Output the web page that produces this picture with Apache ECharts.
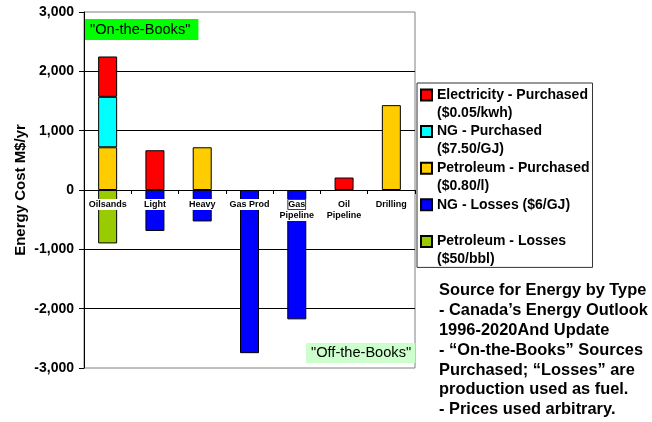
<!DOCTYPE html>
<html>
<head>
<meta charset="utf-8">
<script src="https://cdn.jsdelivr.net/npm/echarts@6/dist/echarts.min.js"></script>
<style>
html,body{margin:0;padding:0;background:#fff;}
#chart{width:652px;height:422px;}
</style>
</head>
<body>
<div id="chart"></div>
<script>
// ---- data ----
const categories = ['Oilsands', 'Light', 'Heavy', 'Gas Prod', 'Gas Pipeline', 'Oil Pipeline', 'Drilling'];
const petroleumPurchased = [720, null, 720, null, null, null, 1430];
const ngPurchased        = [850, null, null, null, null, null, null];
const electricityPurchased = [680, 670, null, null, null, 210, null];
const ngLosses           = [null, -690, -530, -2750, -2180, null, null];
const petroleumLosses    = [-900, null, null, null, null, null, null];

const seriesNames = ['Electricity - Purchased', 'NG - Purchased', 'Petroleum - Purchased', 'NG - Losses ($6/GJ)', 'Petroleum - Losses'];
const seriesSubs  = ['($0.05/kwh)', '($7.50/GJ)', '($0.80/l)', ' ', '($50/bbl)'];
const yTicks = { min: -3000, max: 3000, interval: 1000 };
const noteLines = [
  'Source for Energy by Type',
  '- Canada\u2019s Energy Outlook',
  '1996-2020And Update',
  '- \u201COn-the-Books\u201D Sources',
  'Purchased; \u201CLosses\u201D are',
  'production used as fuel.',
  '- Prices used arbitrary.'
];
const onBooksText = '"On-the-Books"';
const offBooksText = '"Off-the-Books"';
const yAxisTitle = 'Energy Cost M$/yr';

const FONT = 'Liberation Sans, Arial, Helvetica, sans-serif';
const chart = echarts.init(document.getElementById('chart'), null, { renderer: 'canvas' });

function fmtNum(v) {
  const s = Math.abs(v).toString().replace(/\B(?=(\d{3})+(?!\d))/g, ',');
  return (v < 0 ? '-' : '') + s;
}
const subOf = {};
seriesNames.forEach((n, i) => { subOf[n] = seriesSubs[i]; });

const GRID_TOP = 12, GRID_BOTTOM = 54, CHART_H = 422;
const plotH = CHART_H - GRID_TOP - GRID_BOTTOM;
// move category axis up to the zero line of the value axis
const zeroOffset = -plotH * (0 - yTicks.min) / (yTicks.max - yTicks.min);

const barCommon = {
  type: 'bar',
  stack: 'total',
  barWidth: 19
};

const option = {
  animation: false,
  backgroundColor: '#fff',
  textStyle: { fontFamily: FONT },
  grid: {
    left: 84, right: 237, top: GRID_TOP, bottom: GRID_BOTTOM,
    show: true, borderColor: '#808080', borderWidth: 1, backgroundColor: '#fff'
  },
  title: {
    text: noteLines.join('\n'),
    left: 439, top: 281, padding: 0,
    textStyle: { fontFamily: FONT, fontSize: 16.4, fontWeight: 'bold', color: '#000', lineHeight: 19.8 }
  },
  legend: {
    orient: 'vertical',
    left: 417, top: 83,
    padding: [5, 3, 1, 3],
    itemGap: 4.6,
    itemWidth: 11, itemHeight: 11,
    icon: 'rect',
    borderColor: '#333', borderWidth: 1,
    backgroundColor: '#fff',
    selectedMode: false,
    data: seriesNames,
    formatter: function (name) {
      return '{a|' + name + '}\n{a|' + subOf[name] + '}';
    },
    textStyle: {
      padding: [18, 0, 0, 0],
      rich: { a: { fontFamily: FONT, fontSize: 14, fontWeight: 'bold', lineHeight: 18, color: '#000' } }
    }
  },
  xAxis: {
    type: 'category',
    data: categories,
    z: 5,
    offset: zeroOffset,
    axisLine: { onZero: false, lineStyle: { color: '#000', width: 1 } },
    axisTick: { show: true, length: 4, lineStyle: { color: '#000' } },
    axisLabel: {
      interval: 0,
      margin: 9,
      color: '#000',
      fontFamily: FONT,
      fontSize: 9,
      fontWeight: 'bold',
      lineHeight: 11,
      backgroundColor: '#fff',
      formatter: function (v) {
        if (v === 'Gas Pipeline') return '{g|Gas}\n{p|Pipeline}';
        if (v === 'Oil Pipeline') return 'Oil\nPipeline';
        return v;
      },
      rich: {
        g: { fontFamily: FONT, fontSize: 9, fontWeight: 'bold', lineHeight: 11, color: '#000', borderColor: '#000', borderWidth: 0.8, backgroundColor: '#fff' },
        p: { fontFamily: FONT, fontSize: 9, fontWeight: 'bold', lineHeight: 11, color: '#000' }
      }
    },
    splitLine: { show: false }
  },
  yAxis: {
    type: 'value',
    min: yTicks.min, max: yTicks.max, interval: yTicks.interval,
    name: yAxisTitle,
    nameLocation: 'middle',
    nameGap: 56,
    nameMoveOverlap: false,
    nameRotate: 90,
    nameTextStyle: { fontFamily: FONT, fontSize: 15, fontWeight: 'bold', color: '#000' },
    axisLine: { show: true, lineStyle: { color: '#000', width: 1 } },
    axisTick: { show: true, length: 5, lineStyle: { color: '#000' } },
    axisLabel: {
      margin: 10, color: '#000', fontFamily: FONT, fontSize: 14, fontWeight: 'bold',
      formatter: fmtNum
    },
    splitLine: { show: true, showMinLine: false, showMaxLine: false, lineStyle: { color: '#000', width: 1 } }
  },
  series: [
    Object.assign({}, barCommon, { name: seriesNames[2], data: petroleumPurchased, itemStyle: { color: '#ffcc00', borderColor: '#000', borderWidth: 1 } }),
    Object.assign({}, barCommon, { name: seriesNames[1], data: ngPurchased, itemStyle: { color: '#00ffff', borderColor: '#000', borderWidth: 1 } }),
    Object.assign({}, barCommon, { name: seriesNames[0], data: electricityPurchased, itemStyle: { color: '#ff0000', borderColor: '#000', borderWidth: 1 } }),
    Object.assign({}, barCommon, { name: seriesNames[3], data: ngLosses, itemStyle: { color: '#0000ff', borderColor: '#000', borderWidth: 1 } }),
    Object.assign({}, barCommon, { name: seriesNames[4], data: petroleumLosses, itemStyle: { color: '#99cc00', borderColor: '#000', borderWidth: 1 } })
  ],
  graphic: [
    {
      type: 'text', left: 85, top: 19, z: 100,
      style: {
        text: onBooksText, fontFamily: FONT, fontSize: 14.6, fill: '#000',
        backgroundColor: '#00ff00', padding: [3, 8, 2, 5], lineHeight: 16
      }
    },
    {
      type: 'text', left: 306, top: 343, z: 100,
      style: {
        text: offBooksText, fontFamily: FONT, fontSize: 14.6, fill: '#000',
        backgroundColor: '#ccffcc', padding: [2, 4, 2, 5], lineHeight: 16
      }
    }
  ]
};
chart.setOption(option);
</script>
</body>
</html>
